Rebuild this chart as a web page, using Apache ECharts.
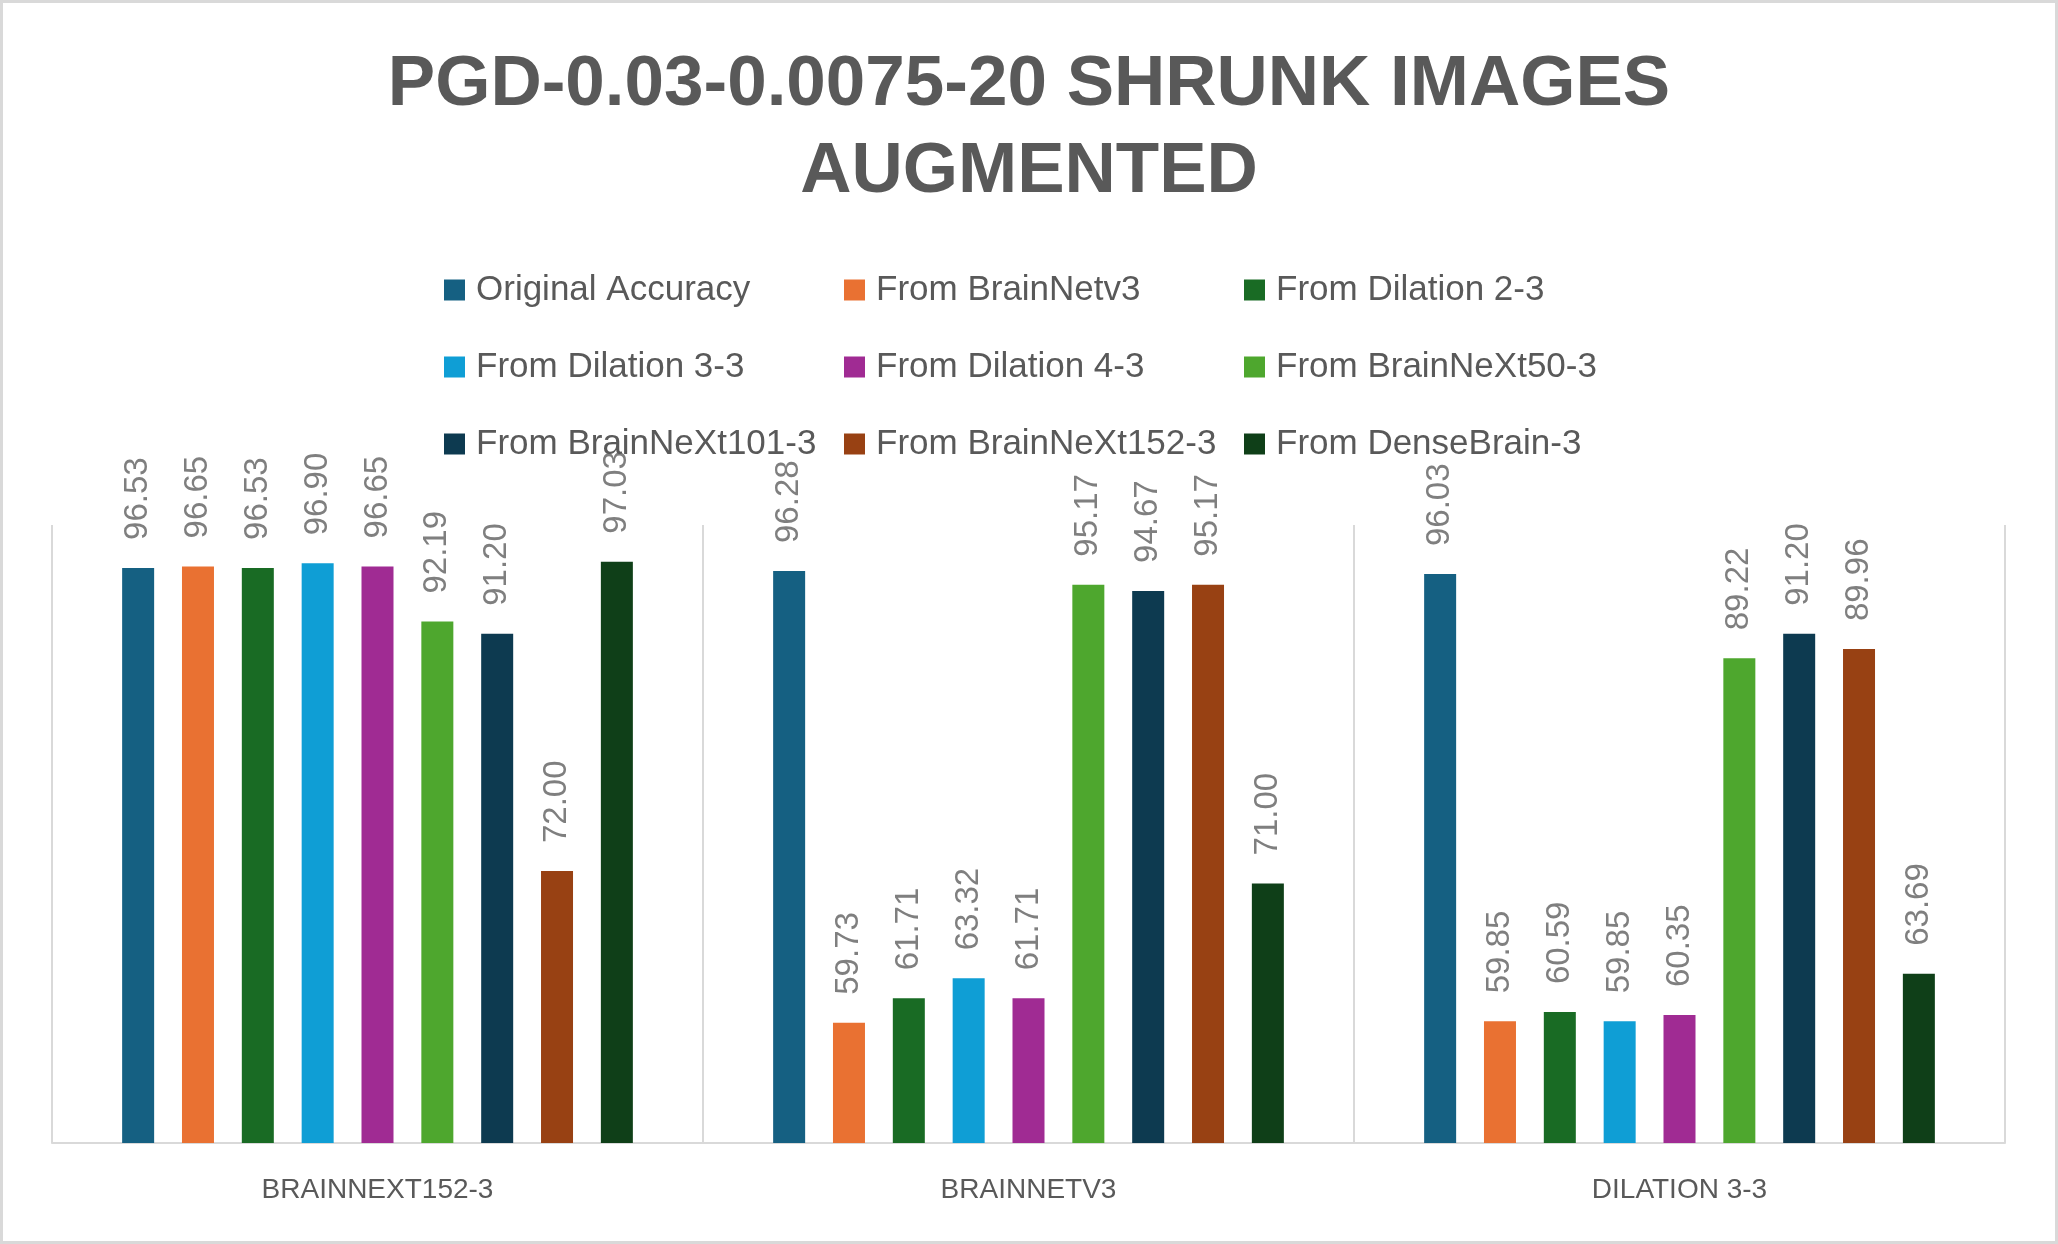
<!DOCTYPE html>
<html lang="en">
<head>
  <meta charset="UTF-8">
  <script src="https://cdn.jsdelivr.net/npm/echarts@6/dist/echarts.min.js"></script>
  <title>PGD shrunk images augmented</title>
  <style>
    html, body { margin: 0; padding: 0; background: #fff; }
  </style>
</head>
<body>
<div id="chart" style="width: 2058px; height: 1244px;"></div>
<script type="text/javascript">
  // categories along the x axis
  const categories = ['BRAINNEXT152-3', 'BRAINNETV3', 'DILATION 3-3'];

  // series names, in legend order
  const seriesNames = [
    'Original Accuracy', 'From BrainNetv3', 'From Dilation 2-3',
    'From Dilation 3-3', 'From Dilation 4-3', 'From BrainNeXt50-3',
    'From BrainNeXt101-3', 'From BrainNeXt152-3', 'From DenseBrain-3'
  ];

  // values per series, one per category
  const originalAccuracy = [96.53, 96.28, 96.03];
  const fromBrainNetv3   = [96.65, 59.73, 59.85];
  const fromDilation23   = [96.53, 61.71, 60.59];
  const fromDilation33   = [96.90, 63.32, 59.85];
  const fromDilation43   = [96.65, 61.71, 60.35];
  const fromBrainNeXt50  = [92.19, 95.17, 89.22];
  const fromBrainNeXt101 = [91.20, 94.67, 91.20];
  const fromBrainNeXt152 = [72.00, 95.17, 89.96];
  const fromDenseBrain   = [97.03, 71.00, 63.69];

  const seriesValues = [
    originalAccuracy, fromBrainNetv3, fromDilation23,
    fromDilation33, fromDilation43, fromBrainNeXt50,
    fromBrainNeXt101, fromBrainNeXt152, fromDenseBrain
  ];

  const colors = [
    '#156082', '#E97132', '#196B24',
    '#0F9ED5', '#A02B93', '#4EA72E',
    '#0D3A50', '#984113', '#0F3F18'
  ];

  function drawChart() {
    let chart = echarts.init(document.getElementById('chart'));

    let series = seriesNames.map(function (name, i) {
      return {
        name: name,
        type: 'bar',
        data: seriesValues[i],
        barWidth: 32,
        barGap: '87%',
        itemStyle: { color: colors[i] },
        label: {
          show: true,
          position: 'top',
          rotate: 90,
          align: 'left',
          verticalAlign: 'middle',
          distance: 28,
          color: '#7f7f7f',
          fontSize: 33,
          fontFamily: 'Liberation Sans',
          formatter: function (p) { return p.value.toFixed(2); }
        }
      };
    });

    // three legend columns, three rows each
    let legendCols = [0, 1, 2].map(function (c) {
      return {
        orient: 'vertical',
        left: 444 + c * 400,
        top: 270,
        padding: 0,
        itemWidth: 21,
        itemHeight: 21,
        itemGap: 37,
        icon: 'rect',
        selectedMode: false,
        data: [seriesNames[c], seriesNames[c + 3], seriesNames[c + 6]],
        textStyle: {
          color: '#595959',
          fontSize: 35,
          lineHeight: 40,
          fontFamily: 'Liberation Sans',
          padding: [0, 0, 0, 6]
        }
      };
    });

    chart.setOption({
      backgroundColor: '#ffffff',
      animation: false,
      title: {
        text: 'PGD-0.03-0.0075-20 SHRUNK IMAGES\nAUGMENTED',
        left: 'center',
        top: 42,
        padding: 0,
        textStyle: {
          color: '#595959',
          fontSize: 71,
          fontWeight: 'bold',
          fontFamily: 'Liberation Sans',
          lineHeight: 87
        }
      },
      legend: legendCols,
      grid: {
        left: 52,
        right: 53,
        top: 525,
        bottom: 101
      },
      xAxis: {
        type: 'category',
        data: categories,
        axisTick: { show: false },
        axisLine: { lineStyle: { color: '#d9d9d9', width: 2 } },
        splitLine: { show: true, lineStyle: { color: '#d9d9d9', width: 2 } },
        axisLabel: {
          color: '#595959',
          fontSize: 28,
          fontFamily: 'Liberation Sans',
          margin: 33
        }
      },
      yAxis: {
        type: 'value',
        min: 50,
        max: 100,
        axisLabel: { show: false },
        axisLine: { show: false },
        axisTick: { show: false },
        splitLine: { show: false }
      },
      graphic: [{
        type: 'rect',
        shape: { x: 1.5, y: 1.5, width: 2055, height: 1241 },
        style: { fill: 'none', stroke: '#d9d9d9', lineWidth: 3 },
        silent: true
      }],
      series: series
    });
  }

  drawChart();
</script>
</body>
</html>
